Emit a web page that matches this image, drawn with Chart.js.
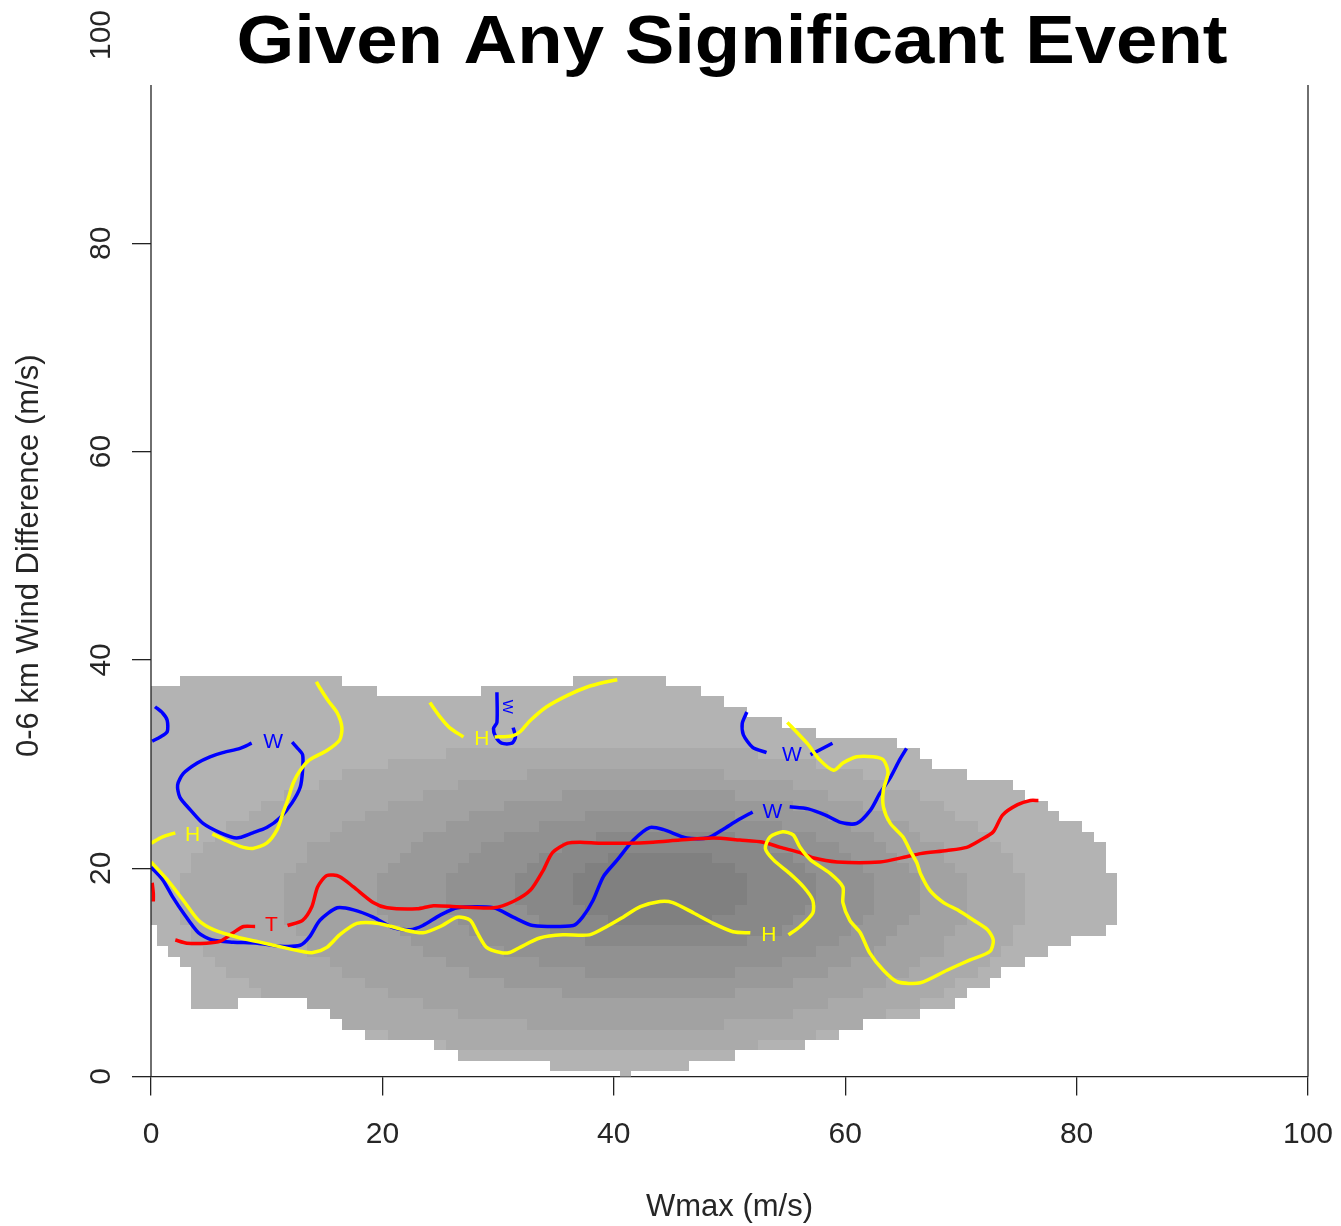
<!DOCTYPE html>
<html>
<head>
<meta charset="utf-8">
<script src="https://cdn.jsdelivr.net/npm/chart.js@4.4.1/dist/chart.umd.min.js"></script>
<style>
  html, body { margin: 0; padding: 0; background: #ffffff; }
  #wrap { width: 1341px; height: 1226px; }
</style>
</head>
<body>
<div id="wrap"><canvas id="c" width="1341" height="1226"></canvas></div>
<script>
// ---- text ----
const chartTitle = 'Given Any Significant Event';
const xTitle = 'Wmax (m/s)';
const yTitle = '0-6 km Wind Difference (m/s)';
const axisTicks = [0, 20, 40, 60, 80, 100];

// ---- density field: grid cells are 1 m/s wide, centred on integers ----
// lowest and highest filled row (0-6 km wind difference) for each Wmax column 0..84
const colBottom = [15,13,12,11,7,7,7,7,8,8,8,8,8,8,7,7,6,5,5,4,4,4,4,4,4,3,3,2,2,2,2,2,2,2,2,1,1,1,1,1,1,0,1,1,1,1,1,2,2,2,2,3,3,3,3,3,3,4,4,4,5,5,6,6,6,6,6,7,7,7,8,9,9,10,11,11,12,12,13,13,14,14,14,15,16];
const colTop    = [37,37,37,38,38,38,38,38,38,38,38,38,38,38,38,38,38,37,37,37,36,36,36,36,36,36,36,36,36,37,37,37,37,37,37,37,37,38,38,38,38,38,38,38,38,37,37,37,36,36,35,35,34,34,34,33,33,33,32,32,32,32,32,32,32,31,31,30,29,29,29,28,28,28,28,27,26,26,25,24,24,23,22,19];

// darker shading bands, each row given as [row, first column, last column]
const level1 = [[3,26,52],[4,21,57],[5,17,61],[6,15,63],[7,12,66],[8,10,68],[9,9,69],[10,7,71],[11,6,72],[12,5,73],[13,4,74],[14,4,74],[15,3,75],[16,3,75],[17,3,75],[18,3,75],[19,3,75],[20,4,74],[21,4,74],[22,5,73],[23,6,72],[24,7,71],[25,9,69],[26,10,68],[27,12,66],[28,15,63],[29,17,61],[30,21,57],[31,26,52]];
const level2 = [[5,33,49],[6,27,55],[7,24,58],[8,21,61],[9,19,63],[10,17,65],[11,16,66],[12,14,68],[13,14,68],[14,13,69],[15,12,70],[16,12,70],[17,12,70],[18,12,70],[19,12,70],[20,13,69],[21,14,68],[22,14,68],[23,16,66],[24,17,65],[25,19,63],[26,21,61],[27,24,58],[28,27,55],[29,33,49]];
const level3 = [[8,36,50],[9,31,55],[10,28,58],[11,26,60],[12,24,62],[13,23,63],[14,22,64],[15,21,65],[16,20,66],[17,20,66],[18,20,66],[19,20,66],[20,21,65],[21,22,64],[22,23,63],[23,24,62],[24,26,60],[25,28,58],[26,31,55],[27,36,50]];
const level4 = [[10,38,50],[11,34,54],[12,31,57],[13,29,59],[14,28,60],[15,27,61],[16,26,62],[17,26,62],[18,26,62],[19,26,62],[20,27,61],[21,28,60],[22,29,59],[23,31,57],[24,34,54],[25,38,50]];
const level5 = [[13,38,51],[14,35,54],[15,34,55],[16,33,56],[17,32,57],[18,32,57],[19,32,57],[20,33,56],[21,34,55],[22,36,53],[23,39,50]];
const level6 = [[15,40,48],[16,38,50],[17,37,51],[18,37,51],[19,37,51],[20,38,50],[21,40,48]];
const shadeBands = [level1, level2, level3, level4, level5, level6];
const shadeGrays = ['#b3b3b3', '#aaaaaa', '#a2a2a2', '#999999', '#919191', '#888888', '#808080'];

// ---- contour lines [Wmax, wind difference] ----
// W contours
const wLeftEdge = [[0.35,35.5],[1.0,34.9],[1.4,34.2],[1.4,33.1],[0.8,32.6],[0.1,32.2]];
const wLoop = [[8.7,32.0],[7.7,31.5],[6.2,31.1],[5.1,30.7],[4.0,30.1],[2.8,29.1],[2.3,28.0],[2.5,26.8],[3.4,25.6],[4.5,24.3],[6.0,23.4],[7.4,22.9],[8.8,23.4],[10.0,23.9],[11.2,24.9],[12.2,26.3],[12.9,27.8],[13.1,29.4],[13.1,30.9],[12.6,31.6],[12.2,32.1]];
const wMainLeft = [[0,20.1],[1.0,18.9],[1.9,17.2],[2.8,15.7],[4.1,13.8],[5.3,13.1],[7.1,12.9],[9.2,12.8],[11.2,12.5],[12.9,12.6],[13.7,13.4],[14.6,15.0],[16.1,16.2],[17.5,16.0],[19.2,15.3],[20.9,14.3],[22.4,14.1],[23.5,14.5],[25.0,15.5],[26.5,16.2],[29.6,16.2],[31.3,15.3],[33.0,14.5],[36.5,14.5],[37.3,15.3],[38.2,16.9],[39.1,19.2],[40.3,20.8],[41.7,22.7],[43.1,23.9],[44.3,23.7],[46.3,22.9],[48.1,22.9],[49.4,23.7],[50.7,24.6],[52.0,25.4]];
const wMainRight = [[55.2,25.9],[56.8,25.7],[58.3,25.1],[59.6,24.4],[61.0,24.3],[62.2,25.6],[63.0,27.2],[63.9,28.7],[64.7,30.4],[65.3,31.5]];
const wUpperLeft = [[51.5,35.0],[51.1,33.9],[51.2,32.8],[52.0,31.6],[53.2,31.1]];
const wUpperRight = [[57.0,30.9],[58.9,32.0]];
const wHook = [[29.9,36.9],[29.9,34.0],[29.6,33.4],[29.8,32.6],[30.3,32.0],[31.2,32.0],[31.5,32.6],[31.3,33.5]];
// T contours
const tLeftEdge = [[0.1,18.6],[0.2,17.6],[0.2,16.8]];
const tLowLeft = [[2.1,13.1],[3.1,12.8],[4.8,12.8],[6.0,13.0],[7.1,13.8],[8.0,14.4],[9.0,14.4]];
const tMain = [[11.8,14.5],[13.1,15.0],[13.9,16.3],[14.4,18.2],[15.2,19.3],[16.3,19.2],[17.5,18.2],[19.2,16.7],[20.4,16.2],[23.0,16.1],[24.4,16.4],[26.5,16.3],[29.6,16.2],[31.3,16.8],[32.8,17.9],[33.9,19.8],[34.7,21.5],[36.0,22.4],[37.1,22.5],[38.8,22.4],[41.1,22.4],[43.4,22.5],[45.7,22.7],[48.6,22.9],[50.9,22.7],[52.9,22.5],[54.4,22.0],[56.1,21.5],[57.2,21.0],[59.3,20.6],[63.0,20.6],[65.3,21.1],[66.5,21.4],[68.8,21.7],[70.5,22.0],[71.7,22.7],[72.8,23.5],[73.6,25.1],[74.9,26.1],[76.0,26.5],[76.7,26.5]];
// H contours
const hLeftStub = [[0,22.4],[1.0,23.0],[2.1,23.4]];
const hLeftHook = [[5.3,23.3],[6.4,22.7],[7.7,22.1],[8.8,21.9],[10.0,22.4],[10.9,23.7],[11.4,25.3],[11.8,26.5],[12.3,28.2],[12.9,29.4],[13.7,30.4],[15.2,31.3],[16.3,32.3],[16.5,33.5],[16.1,34.9],[15.3,36.1],[14.6,37.3],[14.3,37.9]];
const hLower = [[0,20.6],[1.4,18.9],[2.8,16.9],[4.1,15.0],[5.4,14.1],[7.4,13.4],[9.4,12.9],[11.4,12.4],[13.1,12.0],[14.0,11.9],[15.2,12.4],[16.3,13.6],[17.8,14.7],[19.7,14.7],[21.8,14.1],[23.5,13.8],[25.0,14.4],[26.5,15.3],[27.6,15.0],[28.2,13.8],[29.0,12.4],[30.2,11.9],[31.0,11.9],[31.9,12.4],[33.6,13.3],[35.6,13.6],[37.9,13.6],[39.4,14.4],[40.8,15.3],[42.3,16.3],[44.0,16.8],[45.1,16.7],[46.9,15.7],[48.6,14.7],[50.3,13.9],[51.8,13.8]];
const hRightLoop = [[55.1,13.6],[56.1,14.4],[57.2,15.7],[57.2,16.9],[56.4,18.2],[55.2,19.5],[53.8,20.8],[53.1,21.9],[53.5,23.0],[54.6,23.5],[55.5,23.2],[56.1,22.0],[57.0,20.8],[58.7,19.5],[59.8,18.2],[59.8,16.7],[60.4,15.0],[61.3,13.8],[62.1,11.9],[63.3,10.2],[64.5,9.1],[66.5,9.0],[68.8,10.2],[70.8,11.2],[72.5,12.0],[72.8,13.1],[72.3,14.1],[71.1,15.0],[69.7,16.0],[68.5,16.7],[67.3,17.9],[66.5,19.5],[66.2,20.5],[65.6,21.7],[65.0,23.0],[63.9,24.3],[63.3,25.9],[63.3,27.5],[63.7,29.2],[63.3,30.4],[62.4,30.7],[61.0,30.7],[59.8,30.1],[59.0,29.4],[57.8,30.4],[56.7,32.0],[55.0,34.0]];
const hTopLeft = [[24.1,35.9],[25.0,34.5],[25.8,33.5],[27.0,32.6]];
const hTopRight = [[29.7,32.6],[31.2,32.7],[31.9,33.1],[32.8,34.2],[34.2,35.5],[36.0,36.6],[37.7,37.4],[39.4,37.9],[40.3,38.1]];

// contour labels: [text, Wmax, wind difference, rotation in degrees]
const contourLabels = [
  ['W', 10.55, 32.1, 0], ['W', 53.7, 25.4, 0], ['W', 55.4, 30.85, 0], ['W', 30.8, 35.5, 90],
  ['T', 10.4, 14.55, 0],
  ['H', 3.6, 23.2, 0], ['H', 28.6, 32.4, 0], ['H', 53.4, 13.6, 0]
];

const seriesColor = { W: '#0000ff', T: '#ff0000', H: '#ffff00' };
const FONT = '"Liberation Sans", Arial, Helvetica, sans-serif';

function line(points, key) {
  return {
    data: points, showLine: true, pointRadius: 0, borderWidth: 3.5,
    borderColor: seriesColor[key], tension: 0.25, fill: false,
    borderJoinStyle: 'round', borderCapStyle: 'butt'
  };
}

// H drawn on top, then T, then W
const datasets = [
  ...[hLeftStub, hLeftHook, hLower, hRightLoop, hTopLeft, hTopRight].map(p => line(p, 'H')),
  ...[tLeftEdge, tLowLeft, tMain].map(p => line(p, 'T')),
  ...[wLeftEdge, wLoop, wMainLeft, wMainRight, wUpperLeft, wUpperRight, wHook].map(p => line(p, 'W'))
];

// gray density cells behind the contours
const densityShading = {
  id: 'densityShading',
  beforeDatasetsDraw(chart) {
    const { ctx, chartArea: a, scales: { x, y } } = chart;
    ctx.save();
    ctx.beginPath();
    ctx.rect(a.left, a.top, a.right - a.left, a.bottom - a.top);
    ctx.clip();
    for (let c = 0; c < colTop.length; c++) {
      const x0 = Math.round(x.getPixelForValue(c - 0.5));
      const x1 = Math.round(x.getPixelForValue(c + 0.5));
      for (let r = colBottom[c]; r <= colTop[c]; r++) {
        let lvl = 0;
        shadeBands.forEach((band, i) => {
          const row = band.find(b => b[0] === r);
          if (row && c >= row[1] && c <= row[2]) lvl = i + 1;
        });
        const y0 = Math.round(y.getPixelForValue(r + 0.5));
        const y1 = Math.round(y.getPixelForValue(r - 0.5));
        ctx.fillStyle = shadeGrays[lvl];
        ctx.fillRect(x0, y0, x1 - x0, y1 - y0);
      }
    }
    ctx.restore();
  }
};

// contour labels, side frame lines and the heading
const annotations = {
  id: 'annotations',
  afterDatasetsDraw(chart, args, opts) {
    const { ctx, scales: { x, y } } = chart;
    ctx.save();
    ctx.textAlign = 'center';
    ctx.textBaseline = 'middle';
    contourLabels.forEach(([t, lx, ly, rot]) => {
      ctx.save();
      ctx.translate(x.getPixelForValue(lx), y.getPixelForValue(ly));
      ctx.rotate(rot * Math.PI / 180);
      ctx.font = (rot ? '15px ' : '21px ') + FONT;
      ctx.fillStyle = seriesColor[t];
      ctx.fillText(t, 0, 0);
      ctx.restore();
    });
    ctx.restore();

    ctx.save();
    ctx.strokeStyle = '#222222';
    ctx.lineWidth = 1.3;
    [0, 100].forEach(v => {
      const px = x.getPixelForValue(v);
      ctx.beginPath();
      ctx.moveTo(px, y.getPixelForValue(opts.frameTop));
      ctx.lineTo(px, y.getPixelForValue(0));
      ctx.stroke();
    });
    ctx.restore();

    ctx.save();
    ctx.font = 'bold 68px ' + FONT;
    ctx.fillStyle = '#000000';
    ctx.textAlign = 'center';
    ctx.textBaseline = 'alphabetic';
    ctx.translate(opts.titleX, opts.titleBaseline);
    ctx.scale(opts.titleStretch, 1);
    ctx.fillText(chartTitle, 0, 0);
    ctx.restore();
  }
};

new Chart(document.getElementById('c'), {
  type: 'scatter',
  data: { datasets },
  plugins: [densityShading, annotations],
  options: {
    responsive: false,
    animation: false,
    devicePixelRatio: 1,
    layout: { padding: { left: 0, right: 33, top: 35, bottom: 0 } },
    plugins: {
      legend: { display: false },
      tooltip: { enabled: false },
      title: { display: false },
      annotations: { frameTop: 95.2, titleX: 732, titleBaseline: 63, titleStretch: 1.093 }
    },
    scales: {
      x: {
        type: 'linear', min: 0, max: 100,
        afterBuildTicks: s => { s.ticks = axisTicks.map(v => ({ value: v })); },
        afterFit: s => { s.height = 149.5; s.paddingLeft = 0; s.paddingRight = 0; },
        ticks: { font: { family: FONT, size: 30 }, color: '#262626', padding: 21, maxRotation: 0 },
        grid: { drawOnChartArea: false, drawTicks: true, tickLength: 19, color: '#222222', lineWidth: 1.3 },
        border: { display: true, color: '#222222', width: 1.3 },
        title: { display: true, text: xTitle, font: { family: FONT, size: 31 }, color: '#262626', padding: { top: 0, bottom: 0 } }
      },
      y: {
        type: 'linear', min: 0, max: 100,
        afterBuildTicks: s => { s.ticks = axisTicks.map(v => ({ value: v })); },
        afterFit: s => { s.width = 151; s.paddingTop = 0; s.paddingBottom = 0; },
        ticks: { font: { family: FONT, size: 30 }, color: '#262626', padding: 5, minRotation: 90, maxRotation: 90, crossAlign: 'center' },
        grid: {
          drawOnChartArea: false, drawTicks: true, tickLength: 19, lineWidth: 1.3,
          color: c => (c.tick && c.tick.value === 100) ? 'rgba(0,0,0,0)' : '#222222'
        },
        border: { display: false },
        title: { display: true, text: yTitle, font: { family: FONT, size: 31 }, color: '#262626', padding: { top: 11, bottom: 0 } }
      }
    }
  }
});
</script>
</body>
</html>
